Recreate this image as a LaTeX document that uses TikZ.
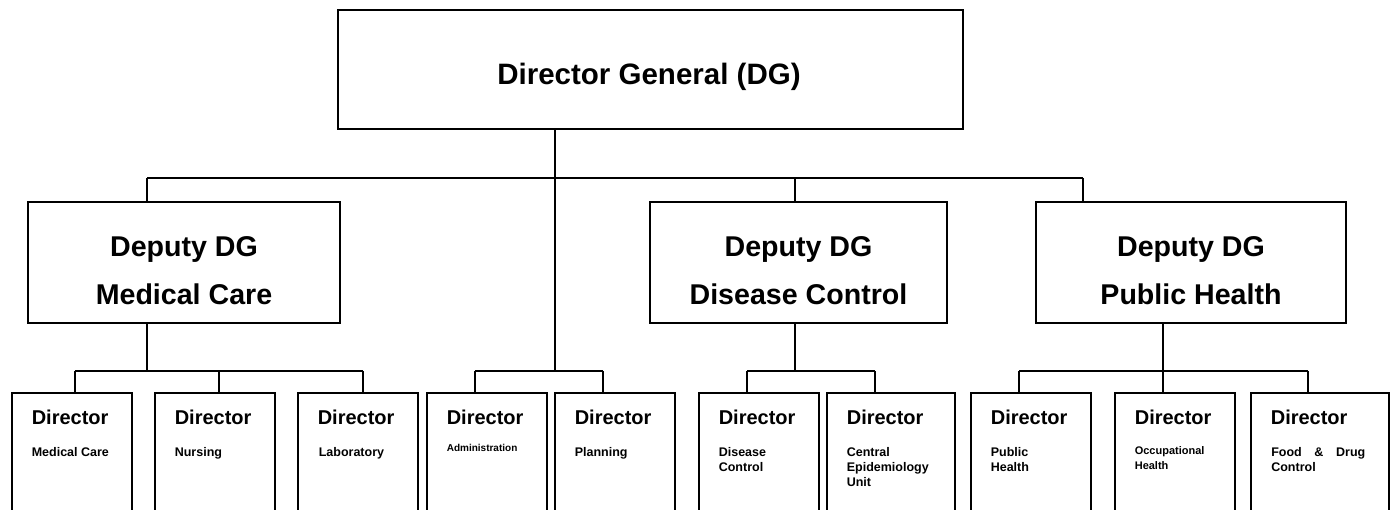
\documentclass[tikz,border=0pt]{standalone}
\usepackage{fontspec}
\setmainfont{Liberation Sans}
\begin{document}
\begin{tikzpicture}[x=1pt,y=-1pt,
  box/.style={draw,line width=1.8pt,inner sep=0pt,rectangle},
  dirbox/.style={box,minimum width=120pt,minimum height=137pt},
  conn/.style={line width=1.4pt},
  big/.style={font=\bfseries\fontsize{28.6}{48}\selectfont,inner sep=0pt,anchor=base},
  ttl/.style={font=\bfseries\fontsize{20}{24}\selectfont,anchor=base west,inner sep=0pt},
  det/.style={font=\bfseries\fontsize{12.5}{15.3}\selectfont,anchor=base west,inner sep=0pt},
  detsm/.style={font=\bfseries\fontsize{10}{12}\selectfont,anchor=base west,inner sep=0pt},
  detocc/.style={font=\bfseries\fontsize{11}{14.3}\selectfont,anchor=base west,inner sep=0pt},
]
\useasboundingbox (0,0) rectangle (1392,510);
\fill[white] (0,0) rectangle (1392,510);
\clip (0,0) rectangle (1392,510);

% top
\node[box,minimum width=625pt,minimum height=119pt] (dg) at (650.5,69.5) {};
\node[big,font=\bfseries\fontsize{29.5}{36}\selectfont] (dgt) at (649,85) {Director General (DG)};

% deputies
\node[box,minimum width=312pt,minimum height=121pt] (mc) at (184,262.5) {};
\node[box,minimum width=297pt,minimum height=121pt] (dc) at (798.5,262.5) {};
\node[box,minimum width=310pt,minimum height=121pt] (ph) at (1191,262.5) {};
\node[big] (mct) at (184,256.7) {\parbox[t]{300pt}{\centering Deputy DG\\Medical Care}};
\node[big] (dct) at (798.5,256.7) {\parbox[t]{290pt}{\centering Deputy DG\\Disease Control}};
\node[big] (pht) at (1191,256.7) {\parbox[t]{300pt}{\centering Deputy DG\\Public Health}};

% directors
\node[dirbox] (d1) at (72,461.5) {};
\node[dirbox] (d2) at (215,461.5) {};
\node[dirbox] (d3) at (358,461.5) {};
\node[dirbox] (d4) at (487,461.5) {};
\node[dirbox] (d5) at (615,461.5) {};
\node[dirbox] (d6) at (759,461.5) {};
\node[dirbox,minimum width=128pt] (d7) at (891,461.5) {};
\node[dirbox] (d8) at (1031,461.5) {};
\node[dirbox] (d9) at (1175,461.5) {};
\node[dirbox,minimum width=138pt] (d10) at (1320,461.5) {};

\foreach \n in {d1,d2,d3,d4,d5,d6,d7,d8,d9,d10}{
  \node[ttl] (\n t) at ([xshift=20.5pt,yshift=-32pt]\n.north west) {Director};
}
\node[det] (d1s) at ([xshift=20.5pt,yshift=-64pt]d1.north west) {Medical Care};
\node[det] (d2s) at ([xshift=20.5pt,yshift=-64pt]d2.north west) {Nursing};
\node[det] (d3s) at ([xshift=21.5pt,yshift=-64pt]d3.north west) {Laboratory};
\node[detsm] (d4s) at ([xshift=20.5pt,yshift=-59.3pt]d4.north west) {Administration};
\node[det] (d5s) at ([xshift=20.5pt,yshift=-64pt]d5.north west) {Planning};
\node[det] (d6s) at ([xshift=20.5pt,yshift=-64pt]d6.north west) {\parbox[t]{100pt}{\raggedright Disease\\Control}};
\node[det] (d7s) at ([xshift=20.5pt,yshift=-64pt]d7.north west) {\parbox[t]{100pt}{\raggedright Central\\Epidemiology\\Unit}};
\node[det] (d8s) at ([xshift=20.5pt,yshift=-64pt]d8.north west) {\parbox[t]{100pt}{\raggedright Public\\Health}};
\node[detocc] (d9s) at ([xshift=20.5pt,yshift=-62.7pt]d9.north west) {\parbox[t]{100pt}{\raggedright Occupational\\Health}};
\node[det] (d10s) at ([xshift=21pt,yshift=-64pt]d10.north west) {\parbox[t]{100pt}{\raggedright\makebox[94pt][s]{Food \& Drug}\\Control}};

% upper bus
\coordinate (tA) at (147,178);
\coordinate (tB) at (795,178);
\coordinate (tC) at (1083,178);
\coordinate (tM) at (555,178);
\draw[conn] (tA) -- (tC);
\draw[conn] (tA) -- (tA |- mc.north);
\draw[conn] (tB) -- (tB |- dc.north);
\draw[conn] (tC) -- (tC |- ph.north);

% trunk
\coordinate (bM) at (555,371);
\draw[conn] (tM |- dg.south) -- (bM);
\coordinate (bM1) at (475,371);
\coordinate (bM2) at (603,371);
\draw[conn] (bM1) -- (bM2);
\draw[conn] (bM1) -- (bM1 |- d4.north);
\draw[conn] (bM2) -- (bM2 |- d5.north);

% medical care group
\coordinate (bA) at (147,371);
\coordinate (bA1) at (75,371);
\coordinate (bA2) at (219,371);
\coordinate (bA3) at (363,371);
\draw[conn] (bA |- mc.south) -- (bA);
\draw[conn] (bA1) -- (bA3);
\draw[conn] (bA1) -- (bA1 |- d1.north);
\draw[conn] (bA2) -- (bA2 |- d2.north);
\draw[conn] (bA3) -- (bA3 |- d3.north);

% disease control group
\coordinate (bB) at (795,371);
\coordinate (bB1) at (747,371);
\coordinate (bB2) at (875,371);
\draw[conn] (bB |- dc.south) -- (bB);
\draw[conn] (bB1) -- (bB2);
\draw[conn] (bB1) -- (bB1 |- d6.north);
\draw[conn] (bB2) -- (bB2 |- d7.north);

% public health group
\coordinate (bC) at (1163,371);
\coordinate (bC1) at (1019,371);
\coordinate (bC3) at (1308,371);
\draw[conn] (bC |- ph.south) -- (bC);
\draw[conn] (bC1) -- (bC3);
\draw[conn] (bC1) -- (bC1 |- d8.north);
\draw[conn] (bC) -- (bC |- d9.north);
\draw[conn] (bC3) -- (bC3 |- d10.north);
\end{tikzpicture}
\end{document}
